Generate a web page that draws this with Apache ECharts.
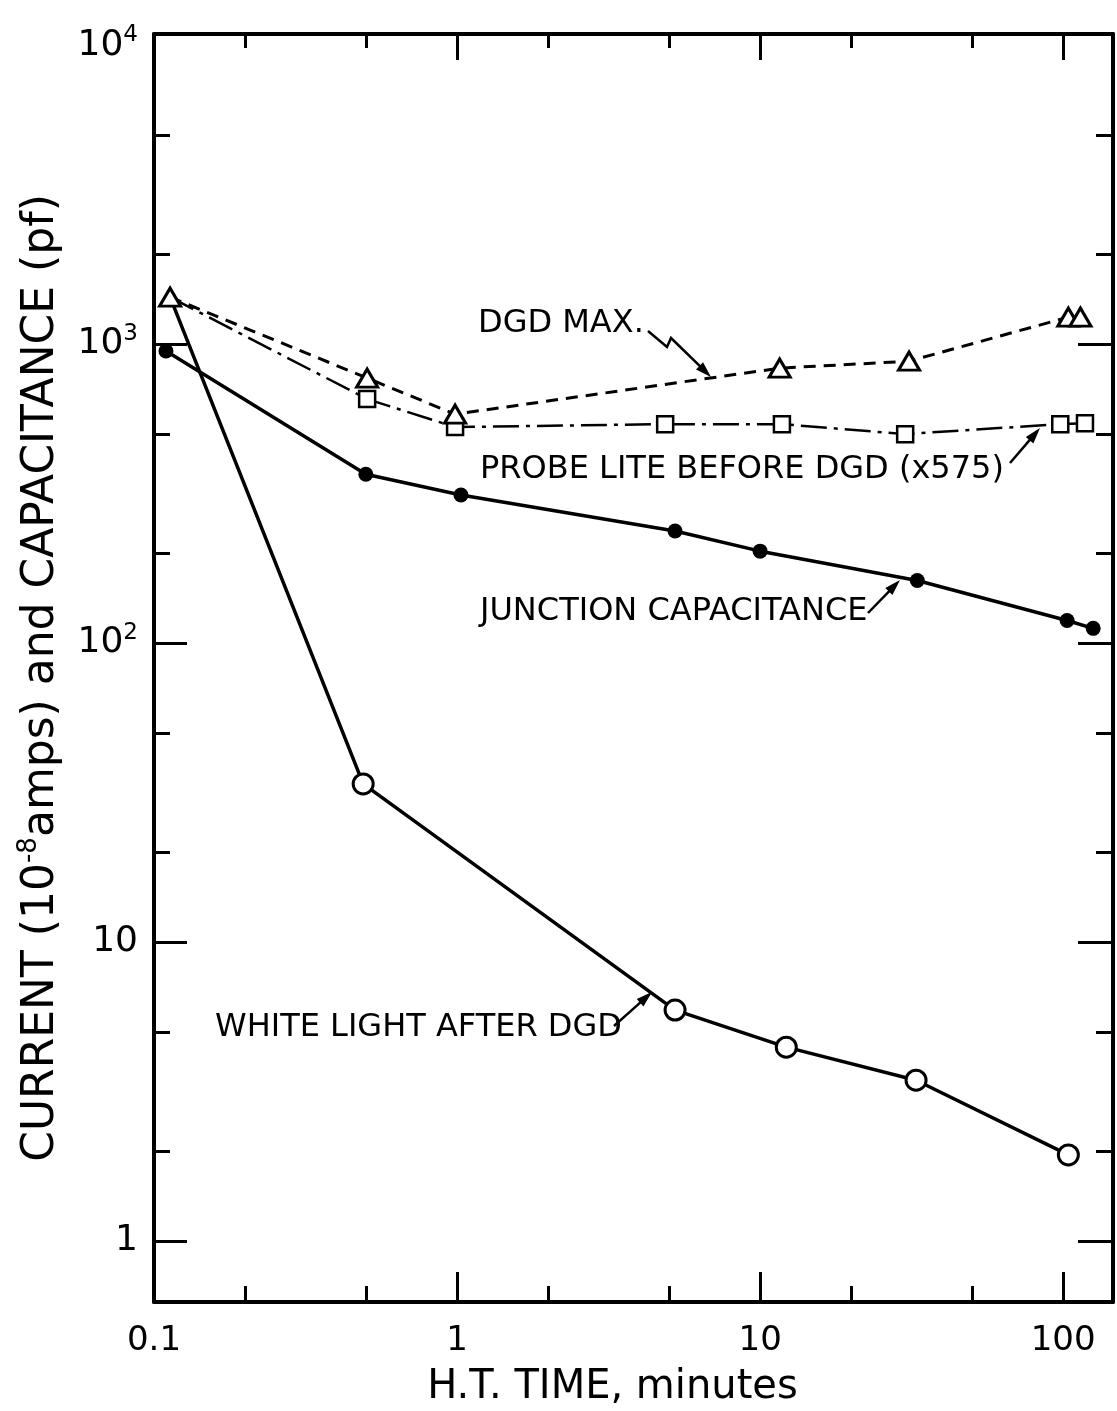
<!DOCTYPE html>
<html>
<head>
<meta charset="utf-8">
<script src="https://cdn.jsdelivr.net/npm/echarts@6/dist/echarts.min.js"></script>
<style>
  html, body { margin: 0; padding: 0; background: #fff; }
  #chart { width: 1117px; height: 1411px; }
</style>
</head>
<body>
<div id="chart"></div>
<script>
// H.T. time (minutes) and measured value for each curve
const dgdMaxTime   = [0.113, 0.505, 0.985, 11.6, 31.0, 104, 114];
const dgdMaxValue  = [1436, 770, 583, 831, 877, 1231, 1231];

const probeTime    = [0.113, 0.505, 0.985, 4.86, 11.8, 30.1, 97.8, 118];
const probeValue   = [1436, 655, 528, 540, 540, 500, 540, 544];

const junctionTime  = [0.1095, 0.5, 1.03, 5.24, 10.0, 33.0, 103, 125.6];
const junctionValue = [948, 367, 313, 237, 203, 162, 119, 112];

const whiteTime    = [0.113, 0.49, 5.24, 12.2, 32.7, 104];
const whiteValue   = [1436, 33.8, 5.92, 4.45, 3.45, 1.94];

// axis ticks and labels
const xMajorTicks  = [1, 10, 100];
const xMinorTicks  = [0.2, 0.5, 2, 5, 20, 50];
const xLabelValues = [0.1, 1, 10, 100];
const yMajorTicks  = [1, 10, 100, 1000];
const yMinorTicks  = [2, 5, 20, 50, 200, 500, 2000, 5000];
const yLabelValues = [1, 10, 100, 1000, 10000];

const X_MIN = 0.1, X_MAX = 146;
const Y_MIN = 0.625, Y_MAX = 10900;

const FONT = 'DejaVu Sans';
const INK = '#000';

function xAxisDef(position, tickValues, tickLen, withLine, withLabel) {
  return {
    type: 'log', logBase: 10, position: position, min: X_MIN, max: X_MAX,
    axisLine: { show: withLine, onZero: false, lineStyle: { color: INK, width: 4 } },
    axisTick: { show: true, inside: true, length: tickLen, customValues: tickValues,
                lineStyle: { color: INK, width: 3 } },
    axisLabel: withLabel ? {
      show: true, customValues: xLabelValues, margin: 22,
      color: INK, fontFamily: FONT, fontSize: 34,
      formatter: v => String(+v.toPrecision(3))
    } : { show: false },
    splitLine: { show: false }, minorTick: { show: false }
  };
}

function yAxisDef(position, tickValues, tickLen, withLine, withLabel) {
  return {
    type: 'log', logBase: 10, position: position, min: Y_MIN, max: Y_MAX,
    axisLine: { show: withLine, onZero: false, lineStyle: { color: INK, width: 4 } },
    axisTick: { show: true, inside: true, length: tickLen, customValues: tickValues,
                lineStyle: { color: INK, width: 3 } },
    axisLabel: withLabel ? {
      show: true, customValues: yLabelValues, margin: 16,
      color: INK, fontFamily: FONT,
      formatter: v => {
        const e = Math.round(Math.log10(v));
        return e <= 1 ? '{b|' + Math.round(v) + '}' : '{b|10}{s|' + e + '}';
      },
      rich: {
        b: { fontFamily: FONT, fontSize: 36, color: INK, lineHeight: 44 },
        s: { fontFamily: FONT, fontSize: 23, color: INK, verticalAlign: 'top' }
      }
    } : { show: false },
    splitLine: { show: false }, minorTick: { show: false }
  };
}

function pairs(xs, ys, hideFirst) {
  return xs.map((x, i) => (hideFirst && i === 0)
    ? { value: [x, ys[i]], symbol: 'none' }
    : [x, ys[i]]);
}

// annotation arrows: a polyline ending in a filled head
function arrow(points, headLen, headW) {
  const n = points.length;
  const [x1, y1] = points[n - 2];
  const [x2, y2] = points[n - 1];
  const a = Math.atan2(y2 - y1, x2 - x1);
  const c = Math.cos(a), s = Math.sin(a);
  const bx = x2 - headLen * c, by = y2 - headLen * s;
  return [
    { type: 'polyline', shape: { points: points.slice(0, n - 1).concat([[bx + 2 * c, by + 2 * s]]) },
      style: { stroke: INK, lineWidth: 2.5, fill: null } },
    { type: 'polygon',
      shape: { points: [[x2, y2], [bx - headW * s, by + headW * c], [bx + headW * s, by - headW * c]] },
      style: { fill: INK } }
  ];
}

function label(text, x, y) {
  return { type: 'text', x: x, y: y,
           style: { text: text, fill: INK, font: '32px "' + FONT + '"',
                    textAlign: 'left', textVerticalAlign: 'middle' } };
}

const chart = echarts.init(document.getElementById('chart'), null, { renderer: 'canvas' });

chart.setOption({
  animation: false,
  backgroundColor: '#fff',
  grid: { left: 154, right: 4, top: 34, bottom: 109, containLabel: false, outerBoundsMode: 'none' },
  xAxis: [
    Object.assign(xAxisDef('bottom', xMajorTicks, 30, true, true), {
      name: 'H.T. TIME, minutes', nameLocation: 'middle', nameGap: 66,
      nameTextStyle: { fontFamily: FONT, fontSize: 40, color: INK, padding: [0, 42, 0, 0] }
    }),
    xAxisDef('bottom', xMinorTicks, 16, false, false),
    xAxisDef('top', xMajorTicks, 26, true, false),
    xAxisDef('top', xMinorTicks, 14, false, false)
  ],
  yAxis: [
    Object.assign(yAxisDef('left', yMajorTicks, 33, true, true), {
      name: '{t|CURRENT (10}{s|-8}{t|amps) and CAPACITANCE (pf)}',
      nameLocation: 'middle', nameGap: 86, nameRotate: 90,
      nameTextStyle: {
        padding: [0, 20, 0, 0],
        rich: {
          t: { fontFamily: FONT, fontSize: 44, color: INK, lineHeight: 52 },
          s: { fontFamily: FONT, fontSize: 26, color: INK, verticalAlign: 'top' }
        }
      }
    }),
    yAxisDef('left', yMinorTicks, 16, false, false),
    yAxisDef('right', yMajorTicks, 35, true, false),
    yAxisDef('right', yMinorTicks, 17, false, false)
  ],
  series: [
    {
      name: 'WHITE LIGHT AFTER DGD', type: 'line',
      data: pairs(whiteTime, whiteValue, true),
      symbol: 'circle', symbolSize: 20,
      itemStyle: { color: '#fff', borderColor: INK, borderWidth: 3 },
      lineStyle: { color: INK, width: 3.5 }, z: 2
    },
    {
      name: 'JUNCTION CAPACITANCE', type: 'line',
      data: pairs(junctionTime, junctionValue, false),
      symbol: 'circle', symbolSize: 15,
      itemStyle: { color: INK, borderColor: INK, borderWidth: 0 },
      lineStyle: { color: INK, width: 3.5 }, z: 3
    },
    {
      name: 'PROBE LITE BEFORE DGD (x575)', type: 'line',
      data: pairs(probeTime, probeValue, true),
      symbol: 'rect', symbolSize: 16,
      itemStyle: { color: '#fff', borderColor: INK, borderWidth: 2.5 },
      lineStyle: { color: INK, width: 2.5, type: [26, 7, 4, 7] }, z: 4
    },
    {
      name: 'DGD MAX.', type: 'line',
      data: pairs(dgdMaxTime, dgdMaxValue, false),
      symbol: 'triangle', symbolSize: [21, 18],
      itemStyle: { color: '#fff', borderColor: INK, borderWidth: 3 },
      lineStyle: { color: INK, width: 3, type: [12, 8] }, z: 5
    }
  ],
  graphic: [
    label('DGD MAX.', 478, 324),
    label('PROBE LITE BEFORE DGD (x575)', 480, 470),
    label('JUNCTION CAPACITANCE', 480, 612),
    label('WHITE LIGHT AFTER DGD', 215, 1028)
  ].concat(
    arrow([[648, 331], [667, 347], [671, 338], [711, 377]], 16, 5),
    arrow([[1010, 463], [1040, 428]], 16, 5),
    arrow([[868, 613], [900, 580]], 16, 5),
    arrow([[614, 1026], [652, 992]], 16, 5)
  )
});
</script>
</body>
</html>
